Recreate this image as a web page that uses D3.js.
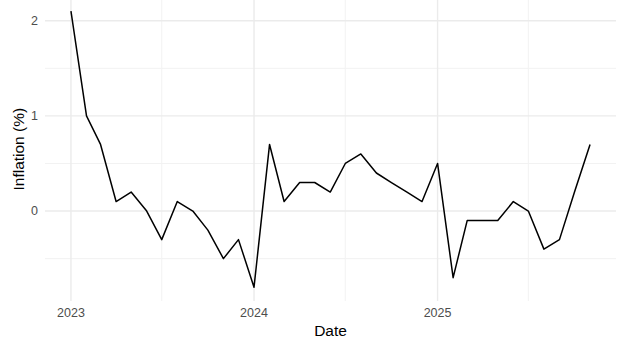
<!DOCTYPE html>
<html>
<head>
<meta charset="utf-8">
<script src="https://cdn.jsdelivr.net/npm/d3@7"></script>
<style>
  body { margin: 0; background: #fff; }
  svg { display: block; font-family: "Liberation Sans", Arial, sans-serif; }
</style>
</head>
<body>
<div id="chart"></div>
<script>
// Monthly inflation, Jan 2023 .. Nov 2025
const months = [
  '2023-01', '2023-02', '2023-03', '2023-04', '2023-05', '2023-06',
  '2023-07', '2023-08', '2023-09', '2023-10', '2023-11', '2023-12',
  '2024-01', '2024-02', '2024-03', '2024-04', '2024-05', '2024-06',
  '2024-07', '2024-08', '2024-09', '2024-10', '2024-11', '2024-12',
  '2025-01', '2025-02', '2025-03', '2025-04', '2025-05', '2025-06',
  '2025-07', '2025-08', '2025-09', '2025-10', '2025-11'
];
const inflation = [
  2.1, 1.0, 0.7, 0.1, 0.2, 0.0, -0.3, 0.1, 0.0, -0.2, -0.5, -0.3,
  -0.8, 0.7, 0.1, 0.3, 0.3, 0.2, 0.5, 0.6, 0.4, 0.3, 0.2, 0.1,
  0.5, -0.7, -0.1, -0.1, -0.1, 0.1, 0.0, -0.4, -0.3, 0.2, 0.7
];
const yMajor = [0, 1, 2];
const yMinor = [-0.5, 0.5, 1.5];
const xMajorYears = ['2023', '2024', '2025'];
const xMinorDates = ['2023-07-01', '2024-07-01', '2025-07-01'];

const width = 621, height = 347;
const parse = d3.utcParse('%Y-%m');
const data = months.map((m, i) => ({ date: parse(m), value: inflation[i] }));

// ggplot-style 5% expansion
const xExt = d3.extent(data, d => d.date);
const xPad = (xExt[1] - xExt[0]) * 0.05;
const yExt = d3.extent(data, d => d.value);
const yPad = (yExt[1] - yExt[0]) * 0.05;

const panel = { left: 45, right: 616, top: -2.6, bottom: 301 };

const x = d3.scaleUtc()
  .domain([new Date(+xExt[0] - xPad), new Date(+xExt[1] + xPad)])
  .range([panel.left, panel.right]);
const y = d3.scaleLinear()
  .domain([yExt[0] - yPad, yExt[1] + yPad])
  .range([panel.bottom, panel.top]);

const svg = d3.select('#chart').append('svg')
  .attr('width', width)
  .attr('height', height);

const grid = svg.append('g');

// minor grid
grid.selectAll('line.ymin').data(yMinor).join('line')
  .attr('x1', panel.left).attr('x2', panel.right)
  .attr('y1', d => y(d)).attr('y2', d => y(d))
  .attr('stroke', '#f2f2f2').attr('stroke-width', 1);
grid.selectAll('line.xmin').data(xMinorDates.map(d => d3.utcParse('%Y-%m-%d')(d))).join('line')
  .attr('y1', panel.top).attr('y2', panel.bottom)
  .attr('x1', d => x(d)).attr('x2', d => x(d))
  .attr('stroke', '#f2f2f2').attr('stroke-width', 1);

// major grid
grid.selectAll('line.ymaj').data(yMajor).join('line')
  .attr('x1', panel.left).attr('x2', panel.right)
  .attr('y1', d => y(d)).attr('y2', d => y(d))
  .attr('stroke', '#ebebeb').attr('stroke-width', 1.4);
const yearDates = xMajorYears.map(d => d3.utcParse('%Y')(d));
grid.selectAll('line.xmaj').data(yearDates).join('line')
  .attr('y1', panel.top).attr('y2', panel.bottom)
  .attr('x1', d => x(d)).attr('x2', d => x(d))
  .attr('stroke', '#ebebeb').attr('stroke-width', 1.4);

// line
const line = d3.line()
  .x(d => x(d.date))
  .y(d => y(d.value));

svg.append('path')
  .datum(data)
  .attr('fill', 'none')
  .attr('stroke', '#000')
  .attr('stroke-width', 1.5)
  .attr('stroke-linejoin', 'round')
  .attr('d', line);

// tick labels
svg.append('g').selectAll('text').data(yMajor).join('text')
  .attr('x', 38)
  .attr('y', d => y(d))
  .attr('dy', '0.35em')
  .attr('text-anchor', 'end')
  .attr('fill', '#4d4d4d')
  .style('font-size', '12.5px')
  .text(d => d);

svg.append('g').selectAll('text').data(yearDates).join('text')
  .attr('x', d => x(d))
  .attr('y', 313)
  .attr('dy', '0.35em')
  .attr('text-anchor', 'middle')
  .attr('fill', '#4d4d4d')
  .style('font-size', '12.5px')
  .text(d => d3.utcFormat('%Y')(d));

// axis titles
svg.append('text')
  .attr('x', (panel.left + panel.right) / 2)
  .attr('y', 331)
  .attr('dy', '0.35em')
  .attr('text-anchor', 'middle')
  .attr('fill', '#000')
  .style('font-size', '15.5px')
  .text('Date');

svg.append('text')
  .attr('transform', `translate(19,${(panel.top + panel.bottom) / 2}) rotate(-90)`)
  .attr('dy', '0.35em')
  .attr('text-anchor', 'middle')
  .attr('fill', '#000')
  .style('font-size', '15.5px')
  .text('Inflation (%)');
</script>
</body>
</html>
